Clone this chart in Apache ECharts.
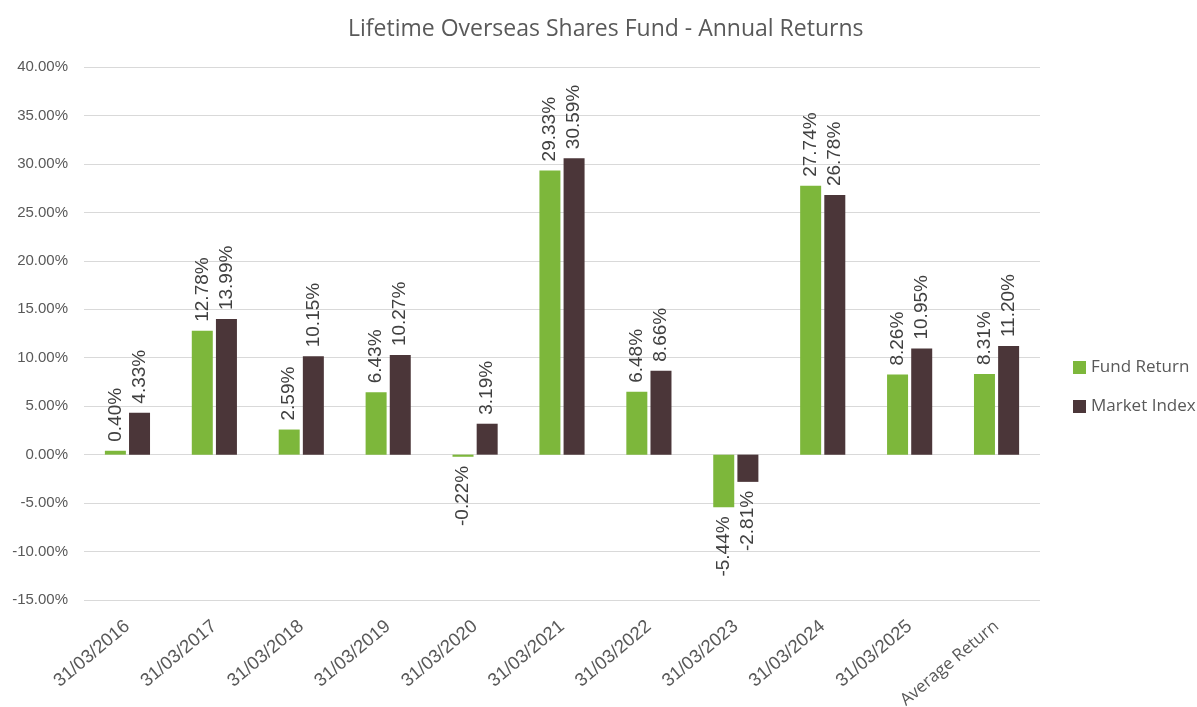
<!DOCTYPE html>
<html>
<head>
<meta charset="utf-8">
<script src="https://cdn.jsdelivr.net/npm/echarts@6/dist/echarts.min.js"></script>
<style>html,body{margin:0;padding:0;background:#fff;}#c{width:1197px;height:707px;}</style>
</head>
<body>
<div id="c"></div>
<script>
const categories = ['31/03/2016','31/03/2017','31/03/2018','31/03/2019','31/03/2020','31/03/2021','31/03/2022','31/03/2023','31/03/2024','31/03/2025','Average Return'];
const fundReturn = [0.40, 12.78, 2.59, 6.43, -0.22, 29.33, 6.48, -5.44, 27.74, 8.26, 8.31];
const marketIndex = [4.33, 13.99, 10.15, 10.27, 3.19, 30.59, 8.66, -2.81, 26.78, 10.95, 11.20];
const seriesNames = ['Fund Return', 'Market Index'];
const title = 'Lifetime Overseas Shares Fund - Annual Returns';

function items(arr) {
  return arr.map(v => ({
    value: v,
    label: v < 0
      ? { position: 'bottom', align: 'right', distance: 9 }
      : { position: 'top', align: 'left', distance: 9 }
  }));
}
const labelBase = {
  show: true, rotate: 90, verticalAlign: 'middle',
  fontFamily: 'Liberation Sans, Arial, sans-serif', fontSize: 19, color: '#404040',
  formatter: p => p.value.toFixed(2) + '%'
};
const chart = echarts.init(document.getElementById('c'));
chart.setOption({
  animation: false,
  title: { text: title, left: 343, top: 13,
    textStyle: { fontFamily: 'Open Sans, sans-serif', fontSize: 23, fontWeight: 'normal', color: '#595959' } },
  legend: { orient: 'vertical', left: 1068, top: 354, itemWidth: 13, itemHeight: 13, itemGap: 22,
    icon: 'rect',
    textStyle: { fontFamily: 'Open Sans, sans-serif', fontSize: 17, color: '#595959' },
    data: seriesNames },
  grid: { left: 84, right: 157, top: 67, bottom: 107, containLabel: false, outerBoundsMode: 'none' },
  xAxis: { type: 'category', data: categories,
    axisLine: { show: false }, axisTick: { show: false },
    axisLabel: { rotate: 40, fontFamily: 'Liberation Sans, Arial, sans-serif', fontSize: 18.5, color: '#595959', margin: 24, interval: 0,
      formatter: v => /^\d/.test(v) ? v : '{a|' + v + '}',
      rich: { a: { fontFamily: 'Open Sans, sans-serif', fontSize: 17, color: '#595959' } } } },
  yAxis: { type: 'value', min: -15, max: 40, interval: 5,
    axisLine: { show: false }, axisTick: { show: false },
    splitLine: { lineStyle: { color: '#D9D9D9', width: 1 } },
    axisLabel: { formatter: v => v.toFixed(2) + '%', fontFamily: 'Liberation Sans, Arial, sans-serif', fontSize: 15, color: '#595959', margin: 16 } },
  series: [
    { name: seriesNames[0], type: 'bar', data: items(fundReturn), barWidth: 21, barGap: '15%',
      itemStyle: { color: '#7DB73B' }, label: labelBase },
    { name: seriesNames[1], type: 'bar', data: items(marketIndex), barWidth: 21,
      itemStyle: { color: '#4B3639' }, label: labelBase }
  ]
});
</script>
</body>
</html>
